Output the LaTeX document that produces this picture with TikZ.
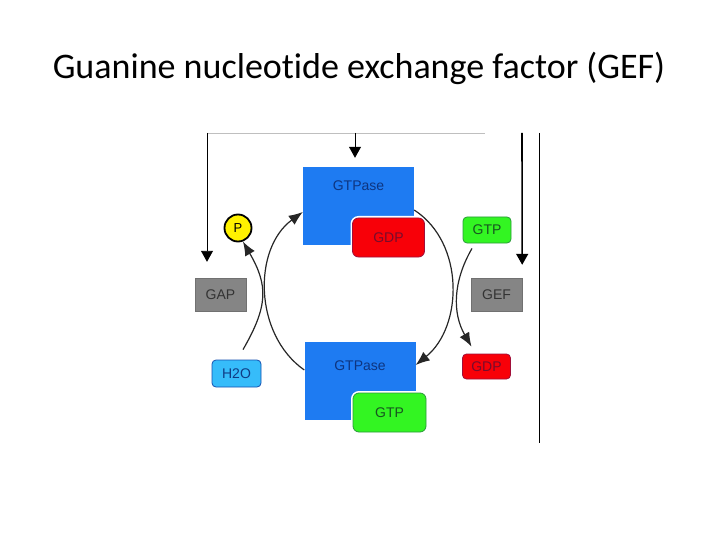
\documentclass[tikz,border=0pt]{standalone}
\usepackage{fontspec}
\setmainfont{Carlito}[Ligatures=NoCommon]
\newfontfamily\diagfont{Liberation Sans}
\usetikzlibrary{arrows.meta,positioning,calc}
\definecolor{gtpblue}{HTML}{1E7BF2}
\definecolor{bluetext}{HTML}{0E3580}
\definecolor{gdpred}{HTML}{F80008}
\definecolor{gdpline}{HTML}{A0103A}
\definecolor{gtpgreen}{HTML}{33F522}
\definecolor{gtpline}{HTML}{2A9A3A}
\definecolor{boxgrey}{HTML}{858585}
\definecolor{waterblue}{HTML}{36BCFA}
\definecolor{waterline}{HTML}{1550B0}

\begin{document}
\begin{tikzpicture}[x=1pt, y=1pt,
  enzyme/.style={rectangle, fill=gtpblue, inner sep=0pt,
                 minimum width=111pt, minimum height=78pt},
  nucl/.style={rectangle, rounded corners=6pt, line width=0.8pt,
               preaction={draw=white, line width=4pt},
               minimum width=72pt, minimum height=39pt,
               font=\diagfont\fontsize{14}{16}\selectfont},
  small/.style={rectangle, rounded corners=4pt, line width=0.8pt,
                minimum width=48pt, minimum height=26pt,
                font=\diagfont\fontsize{14}{16}\selectfont},
  factor/.style={rectangle, fill=boxgrey, draw=boxgrey!85!black,
                 minimum width=51pt, minimum height=33pt,
                 font=\diagfont\fontsize{14}{16}\selectfont, text=black!80},
  cycle/.style={line width=1.2pt, black!85, -{Latex[length=14pt,width=11pt]}},
  feed/.style={line width=0.9pt, black, -{Triangle[length=11pt,width=12pt]}},
]
  \useasboundingbox (0,0) rectangle (720,-540);
  \node[font=\fontsize{36}{42}\selectfont] (title) at (359,-68)
    {Guanine nucleotide exchange factor (GEF)};

  % the two GTPase states
  \node[enzyme, label={[below=10pt, text=bluetext,
        font=\diagfont\fontsize{14}{16}\selectfont]north:GTPase}]
    (gtpT) at (358.5,-206) {};
  \node[nucl, fill=gdpred, draw=gdpline, text=gdpline!75!black]
    (gdpT) at (388.5,-237.5) {GDP};
  \node[enzyme, label={[below=15pt, text=bluetext,
        font=\diagfont\fontsize{14}{16}\selectfont]north:GTPase}]
    (gtpB) at (360,-381) {};
  \node[nucl, fill=gtpgreen, draw=gtpline, text=gtpline!55!black,
        minimum width=73pt] (gtpN) at (389.5,-412.5) {GTP};

  % side players
  \node[small, fill=gtpgreen, draw=gtpline, text=gtpline!55!black]
    (gtpS) at (487,-230) {GTP};
  \node[small, fill=gdpred, draw=gdpline, text=gdpline!75!black,
        minimum height=25pt] (gdpS) at (486.5,-366.5) {GDP};
  \node[small, fill=waterblue, draw=waterline, text=waterline!75!black,
        minimum width=49pt, minimum height=27pt] (h2o) at (236.5,-373.5) {H2O};
  \node[circle, fill=yellow, draw=black, line width=1.8pt, inner sep=0pt,
        minimum size=27pt, font=\diagfont\fontsize{13}{15}\selectfont]
    (phos) at (238,-228) {P};
  \node[factor] (gap) at (220.5,-294.5) {GAP};
  \node[factor] (gef) at (496.5,-294.5) {GEF};

  % cycle
  \draw[cycle] ([yshift=11pt]gtpB.west) to[out=145, in=216] ([yshift=-6pt]gtpT.west);
  \draw[cycle] ([yshift=-4pt]gtpT.east) to[out=-33, in=39] ([yshift=16pt]gtpB.east);
  \draw[cycle] ([shift={(6.5pt,10pt)}]h2o.north) to[out=60, in=-60, looseness=1.2] (phos.-70);
  \draw[cycle] ([shift={(-15pt,-5pt)}]gtpS.south) to[out=-120, in=120] ([shift={(-15pt,7pt)}]gdpS.north);

  % regulation lines
  \coordinate (tl) at (207,-133);
  \coordinate (tr) at (485,-133);
  \coordinate (rt) at (522,-133);
  \coordinate (ft) at (539,-133);
  \coordinate (fb) at (539,-443);
  \draw[black!25, line width=0.8pt] (tl) -- (tr);
  \draw[feed] (tl) -- ([shift={(-13.5pt,16pt)}]gap.north);
  \draw[feed] (tl -| gtpT.north) ++(-3.5pt,0) -- ([shift={(-3.5pt,9pt)}]gtpT.north);
  \draw[feed, line width=1.6pt] (rt) -- ([yshift=13pt]gef.north east);
  \draw[black, line width=0.9pt] (ft) -- (fb);
\end{tikzpicture}
\end{document}
